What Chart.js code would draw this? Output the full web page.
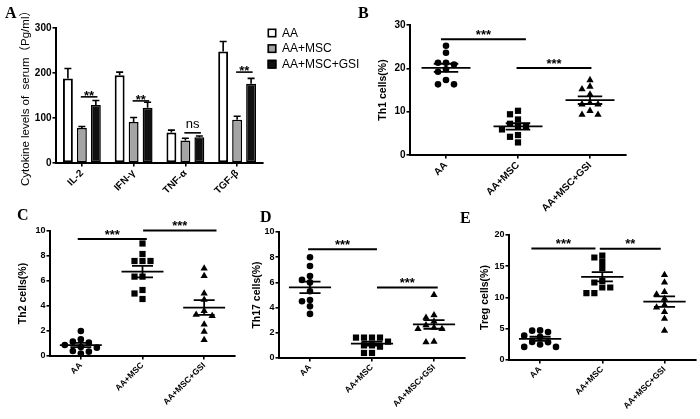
<!DOCTYPE html>
<html><head><meta charset="utf-8">
<script src="https://cdn.jsdelivr.net/npm/chart.js@4.4.0/dist/chart.umd.min.js"></script>
<style>
html,body{margin:0;padding:0;background:#fff;}
#wrap{position:relative;width:700px;height:419px;overflow:hidden;background:#fff;}
#wrap canvas{position:absolute;}
.lab{position:absolute;font:bold 16px "Liberation Serif","Times New Roman",serif;line-height:16px;color:#000;}
</style></head><body>
<div id="wrap">
<div class="lab" style="left:5px;top:5px">A</div>
<div class="lab" style="left:358px;top:5px">B</div>
<div class="lab" style="left:17px;top:207px">C</div>
<div class="lab" style="left:260px;top:209px">D</div>
<div class="lab" style="left:460px;top:210px">E</div>
</div>
<script>
// ---------- DATA ----------
const groups = ['AA', 'AA+MSC', 'AA+MSC+GSI'];

// Panel A: cytokine levels (mean, upward SEM)
const cytokines = ['IL-2', 'IFN-γ', 'TNF-α', 'TGF-β'];
const cytoAA = [188, 195, 68, 248];
const cytoAAerr = [22, 7, 5, 22];
const cytoMSC = [78, 91, 50, 96];
const cytoMSCerr = [3, 10, 5, 8];
const cytoGSI = [129, 123, 57, 176];
const cytoGSIerr = [10, 12, 3, 12];
const yTicksA = [0, 100, 200, 300];
// significance: [from, to, level, text]
const sigA = [[-0.02, 0.3, 147, '**'], [0.98, 1.3, 138, '**'], [1.98, 2.3, 67, 'ns'], [2.98, 3.3, 202, '**']];

// Panel B: Th1 cells (%)
const th1AA = [25.2, 23.6, 21.3, 21.3, 20.9, 19.8, 19.2, 17.3, 16.3, 16.3];
const th1MSC = [10.2, 9.4, 8.2, 7.2, 6.7, 6.7, 5.9, 4.6, 4.2, 2.9];
const th1GSI = [17.3, 15.8, 15.2, 14.0, 12.0, 11.7, 11.7, 10.2, 9.3, 9.3];
const yTicksB = [0, 10, 20, 30];
const sigB = [[-0.07, 1.11, 26.7, '***'], [0.98, 2.02, 20.1, '***']];

// Panel C: Th2 cells (%)
const th2AA = [2.0, 1.33, 1.15, 1.07, 0.88, 0.72, 0.67, 0.4, 0.35, 0.2];
const th2MSC = [9.0, 8.16, 7.6, 7.6, 7.6, 6.35, 6.35, 5.28, 5.0, 4.56];
const th2GSI = [7.0, 6.4, 5.0, 4.5, 3.6, 3.3, 3.2, 2.53, 1.95, 1.28];
const yTicksC = [0, 2, 4, 6, 8, 10];
const sigC = [[-0.05, 1.07, 9.36, '***'], [1.01, 2.2, 10.05, '***']];

// Panel D: Th17 cells (%)
const th17AA = [8.0, 7.3, 6.5, 6.2, 6.0, 5.3, 4.6, 4.5, 4.1, 3.5];
const th17MSC = [1.62, 1.62, 1.62, 1.62, 1.3, 1.0, 1.0, 0.9, 0.4, 0.4];
const th17GSI = [5.0, 3.4, 3.2, 2.9, 2.6, 2.4, 2.3, 2.3, 1.3, 1.25];
const yTicksD = [0, 2, 4, 6, 8, 10];
const sigD = [[-0.03, 1.08, 8.63, '***'], [1.08, 2.06, 5.59, '***']];

// Panel E: Treg cells (%)
const tregAA = [4.74, 4.7, 4.48, 3.9, 3.7, 2.9, 2.85, 2.47, 2.1, 2.1];
const tregMSC = [16.7, 16.4, 15.7, 14.7, 12.65, 12.4, 11.6, 11.6, 10.7, 10.7];
const tregGSI = [13.6, 12.4, 10.9, 10.5, 9.8, 8.8, 8.4, 7.7, 6.6, 4.7];
const yTicksE = [0, 5, 10, 15, 20];
const sigE = [[-0.14, 0.89, 17.85, '***'], [0.96, 1.94, 17.8, '**']];

// ---------- STYLE / LAYOUT ----------
const FONT = '"Liberation Sans", Arial, "Noto Sans CJK SC", sans-serif';
Chart.defaults.font.family = FONT;
Chart.defaults.color = '#000';
Chart.defaults.animation = false;

const wrap = document.getElementById('wrap');
function makeCanvas(c) {
  const el = document.createElement('canvas');
  el.width = c.w; el.height = c.h;
  el.style.left = c.l + 'px'; el.style.top = c.t + 'px';
  el.style.width = c.w + 'px'; el.style.height = c.h + 'px';
  wrap.insertBefore(el, wrap.firstChild);
  return el;
}
function geom(c, a) {
  return {yw: a.l - c.l, xh: c.t + c.h - a.b, top: a.t - c.t, right: c.l + c.w - a.r,
          plotH: a.b - a.t, plotW: a.r - a.l};
}
function axisBase() {
  return {
    border: {display: true, color: '#000', width: 2},
    grid: {display: true, drawOnChartArea: false, drawTicks: true, tickLength: 3.5, color: '#000', lineWidth: 1.6}
  };
}

const errPlugin = {
  id: 'errbars',
  afterDatasetsDraw(chart) {
    const ctx = chart.ctx, ys = chart.scales.y;
    chart.data.datasets.forEach((ds, i) => {
      if (!ds.errors) return;
      chart.getDatasetMeta(i).data.forEach((bar, j) => {
        const top = ys.getPixelForValue(ds.data[j]);
        const e = ys.getPixelForValue(ds.data[j] + ds.errors[j]);
        ctx.save(); ctx.strokeStyle = '#000'; ctx.lineWidth = 1.6;
        ctx.beginPath(); ctx.moveTo(bar.x, top); ctx.lineTo(bar.x, e);
        ctx.moveTo(bar.x - 3.5, e); ctx.lineTo(bar.x + 3.5, e); ctx.stroke(); ctx.restore();
      });
    });
  }
};

const sigPlugin = {
  id: 'sig',
  afterDatasetsDraw(chart, args, o) {
    if (!o || !o.items) return;
    const ctx = chart.ctx, xs = chart.scales.x, ys = chart.scales.y;
    o.items.forEach(it => {
      const x1 = xs.getPixelForValue(it[0]), x2 = xs.getPixelForValue(it[1]), y = ys.getPixelForValue(it[2]);
      ctx.save(); ctx.strokeStyle = '#000'; ctx.lineWidth = o.lineWidth;
      ctx.beginPath(); ctx.moveTo(x1, y); ctx.lineTo(x2, y); ctx.stroke();
      ctx.fillStyle = '#000'; ctx.textAlign = 'center'; ctx.textBaseline = 'alphabetic';
      const ns = it[3] === 'ns';
      ctx.font = ns ? '13px ' + FONT : 'bold 13px ' + FONT;
      ctx.fillText(it[3], (x1 + x2) / 2, y + (ns ? -4.4 : o.starShift));
      ctx.restore();
    });
  }
};

const boxLegend = {
  id: 'boxLegend',
  afterDraw(chart, args, o) {
    if (!o || !o.show) return;
    const ctx = chart.ctx, x0 = chart.chartArea.right + o.dx;
    chart.data.datasets.forEach((ds, i) => {
      const yc = chart.chartArea.top + o.dy0 + i * o.step;
      ctx.save();
      ctx.fillStyle = ds.backgroundColor; ctx.fillRect(x0, yc - 4.5, 9, 9);
      ctx.strokeStyle = '#000'; ctx.lineWidth = 1.6; ctx.strokeRect(x0 + 0.8, yc - 3.7, 7.4, 7.4);
      ctx.fillStyle = '#000'; ctx.font = '12px ' + FONT; ctx.textBaseline = 'middle';
      ctx.fillText(ds.label, x0 + 14.5, yc + 0.5);
      ctx.restore();
    });
  }
};

// ---------- PANEL A ----------
(function () {
  const c = {l: 0, t: 0, w: 370, h: 210}, a = {l: 56, t: 28, r: 263, b: 163};
  const g = geom(c, a);
  const xa = axisBase(); xa.grid.offset = false;
  const ya = axisBase();
  new Chart(makeCanvas(c), {
    type: 'bar',
    data: {labels: cytokines, datasets: [
      {label: groups[0], data: cytoAA, errors: cytoAAerr, backgroundColor: '#ffffff', borderColor: '#000', borderWidth: 2, borderSkipped: false},
      {label: groups[1], data: cytoMSC, errors: cytoMSCerr, backgroundColor: '#a4a4a4', borderColor: '#000', borderWidth: 1.5, borderSkipped: false},
      {label: groups[2], data: cytoGSI, errors: cytoGSIerr, backgroundColor: '#111111', borderColor: '#000', borderWidth: 1.5, borderSkipped: false}
    ]},
    options: {
      responsive: false, animation: false,
      datasets: {bar: {categoryPercentage: 0.81, barPercentage: 0.71}},
      layout: {padding: {top: g.top, right: g.right, left: 0, bottom: 0}},
      plugins: {legend: {display: false}, tooltip: {enabled: false},
        sig: {items: sigA, lineWidth: 1.6, starShift: 2.9},
        boxLegend: {show: true, dx: 4.5, dy0: 5, step: 15.6}},
      scales: {
        x: Object.assign(xa, {
          ticks: {font: {size: 10, weight: 'bold'}, minRotation: 45, maxRotation: 45, autoSkip: false, padding: 1},
          afterFit: s => { s.height = g.xh; }
        }),
        y: Object.assign(ya, {
          min: 0, max: 300,
          afterBuildTicks: s => { s.ticks = yTicksA.map(v => ({value: v})); },
          ticks: {font: {size: 10, weight: 'bold'}, padding: 1, autoSkip: false},
          title: {display: true, text: 'Cytokine levels of  serum（Pg/ml）', font: {size: 11.5}, padding: {top: 18.5, bottom: 0}},
          afterFit: s => { s.width = g.yw; }
        })
      }
    },
    plugins: [errPlugin, sigPlugin, boxLegend]
  });
})();

// ---------- SCATTER PANELS ----------
// horizontal spread of dots computed from the values (beeswarm), not typed
function swarm(values, center, yPerPx, colStep) {
  const dy = 6 * yPerPx;
  const order = values.map((v, k) => k).sort((p, q) => values[q] - values[p]);
  const placed = [], xs = new Array(values.length);
  order.forEach(k => {
    const v = values[k];
    for (const col of [0, -1, 1, -2, 2, -3, 3]) {
      if (!placed.some(p => p.col === col && Math.abs(p.y - v) < dy)) {
        placed.push({col: col, y: v}); xs[k] = center + col * colStep; break;
      }
    }
  });
  return xs;
}
function meanSem(vals) {
  const n = vals.length, m = vals.reduce((s, v) => s + v, 0) / n;
  const sd = Math.sqrt(vals.reduce((s, v) => s + (v - m) * (v - m), 0) / (n - 1));
  return [m, sd / Math.sqrt(n)];
}

function scatterPanel(c, a, sets, yTicks, title, titlePad, sig, tickSize, xSize) {
  const g = geom(c, a);
  const ymax = yTicks[yTicks.length - 1];
  const yPerPx = ymax / g.plotH;
  const colStep = 8 / (g.plotW / 3);
  const styles = [['circle', 3.3], ['rect', 4.4], ['triangle', 4.2]];
  const datasets = sets.map((vals, i) => {
    const xs = swarm(vals, i, yPerPx, colStep);
    return {label: groups[i], data: vals.map((v, k) => ({x: xs[k], y: v})),
      pointStyle: styles[i][0], pointRadius: styles[i][1], backgroundColor: '#000', borderColor: '#000',
      borderWidth: 0, showLine: false, order: 1};
  });
  const summary = [];
  sets.forEach((vals, i) => {
    const [m, se] = meanSem(vals);
    summary.push({x: i - 0.34, y: m}, {x: i + 0.34, y: m}, {x: i, y: null},
      {x: i - 0.17, y: m + se}, {x: i + 0.17, y: m + se}, {x: i, y: null},
      {x: i - 0.17, y: m - se}, {x: i + 0.17, y: m - se}, {x: i, y: null},
      {x: i, y: m - se}, {x: i, y: m + se}, {x: i, y: null});
  });
  datasets.push({label: 'Mean ± SEM', data: summary, showLine: true, spanGaps: false, pointRadius: 0,
    borderColor: '#000', borderWidth: 1.8, fill: false, order: 0});
  const xa = axisBase(), ya = axisBase();
  new Chart(makeCanvas(c), {
    type: 'scatter',
    data: {datasets: datasets},
    options: {
      responsive: false, animation: false,
      layout: {padding: {top: g.top, right: g.right, left: 0, bottom: 0}},
      plugins: {legend: {display: false}, tooltip: {enabled: false},
        sig: {items: sig, lineWidth: 2, starShift: -0.4}},
      scales: {
        x: Object.assign(xa, {
          type: 'linear', min: -0.5, max: 2.5,
          afterBuildTicks: s => { s.ticks = [0, 1, 2].map(v => ({value: v})); },
          ticks: {callback: v => groups[v], font: {size: xSize, weight: 'bold'}, minRotation: 45, maxRotation: 45, autoSkip: false, padding: 1},
          afterFit: s => { s.height = g.xh; }
        }),
        y: Object.assign(ya, {
          min: 0, max: ymax,
          afterBuildTicks: s => { s.ticks = yTicks.map(v => ({value: v})); },
          ticks: {font: {size: tickSize, weight: 'bold'}, padding: 1, autoSkip: false},
          title: {display: true, text: title, font: {size: 10.5, weight: 'bold'}, padding: {top: titlePad, bottom: 0}},
          afterFit: s => { s.width = g.yw; }
        })
      }
    },
    plugins: [sigPlugin]
  });
}

scatterPanel({l: 370, t: 0, w: 330, h: 225}, {l: 410, t: 25, r: 626, b: 155},
  [th1AA, th1MSC, th1GSI], yTicksB, 'Th1 cells(%)', 6.7, sigB, 10, 10);
scatterPanel({l: 0, t: 205, w: 240, h: 214}, {l: 50, t: 231, r: 235, b: 356},
  [th2AA, th2MSC, th2GSI], yTicksC, 'Th2 cells(%)', 16.7, sigC, 9, 8.5);
scatterPanel({l: 240, t: 205, w: 230, h: 214}, {l: 279, t: 232, r: 465, b: 358},
  [th17AA, th17MSC, th17GSI], yTicksD, 'Th17 cells(%)', 11.2, sigD, 9, 8.5);
scatterPanel({l: 470, t: 205, w: 230, h: 214}, {l: 509, t: 235, r: 697, b: 360},
  [tregAA, tregMSC, tregGSI], yTicksE, 'Treg cells(%)', 9.2, sigE, 9, 8.5);
</script>
</body></html>
